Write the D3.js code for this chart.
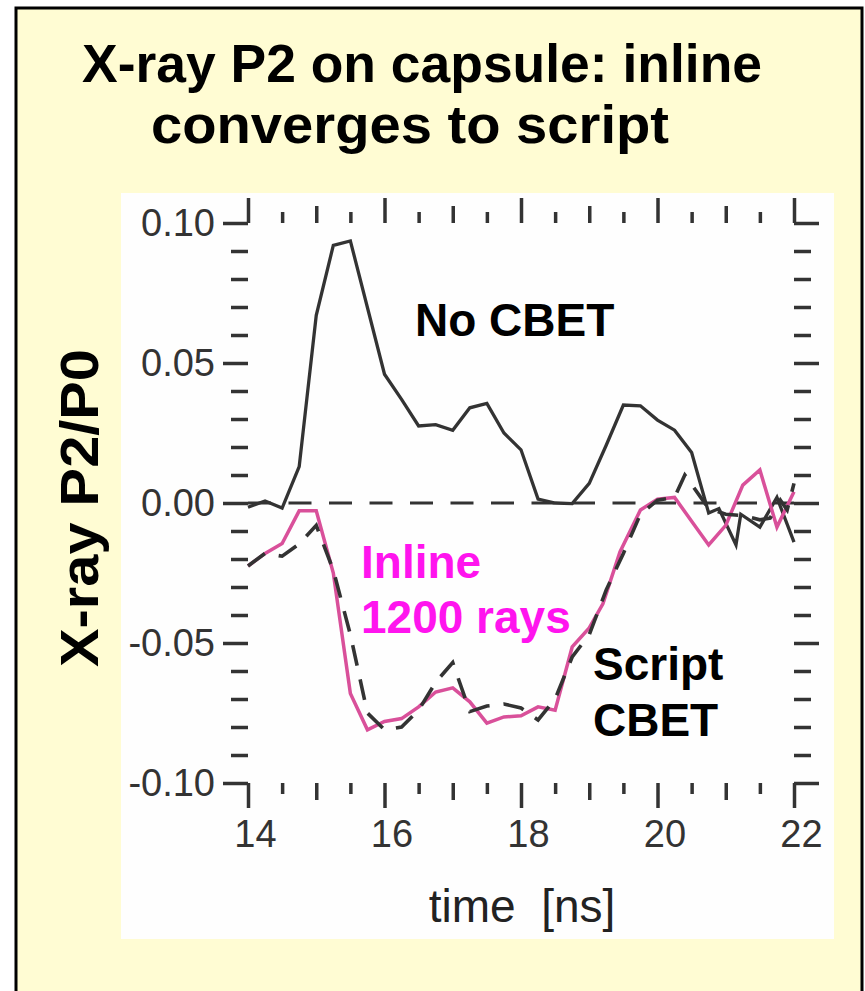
<!DOCTYPE html>
<html>
<head>
<meta charset="utf-8">
<script src="https://cdn.jsdelivr.net/npm/d3@7"></script>
<style>
  body { margin: 0; background: #fff; }
  text { font-family: "Liberation Sans", Arial, Helvetica, sans-serif; }
</style>
</head>
<body>
<div id="chart"></div>
<script>
// No CBET (solid black)
var timeNoCbet = [14.0, 14.25, 14.5, 14.75, 15.0, 15.25, 15.5, 16.0, 16.25, 16.5, 16.75, 17.0, 17.25, 17.5, 17.75, 18.0,
  18.25, 18.5, 18.75, 19.0, 19.25, 19.5, 19.75, 20.0, 20.25, 20.5, 20.75, 20.9, 21.15, 21.22, 21.5, 21.75, 22.0];
var p2NoCbet = [-0.0015, 0.0007, -0.0018, 0.013, 0.067, 0.092, 0.0936, 0.046, 0.037, 0.0275, 0.028, 0.026, 0.034, 0.0356, 0.025, 0.019,
  0.0014, 0.0, -0.0002, 0.007, 0.0207, 0.035, 0.0347, 0.0296, 0.026, 0.018, -0.0036, -0.002, -0.015, -0.004, -0.0086, 0.002, -0.014];

// Inline 1200 rays (pink)
var timeInline = [14.0, 14.25, 14.5, 14.75, 15.0, 15.25, 15.5, 15.75, 16.0, 16.25, 16.5, 16.75, 17.0, 17.25, 17.5, 17.75, 18.0,
  18.25, 18.5, 18.75, 19.0, 19.2, 19.45, 19.75, 20.0, 20.25, 20.5, 20.75, 21.0, 21.25, 21.5, 21.75, 22.0];
var p2Inline = [-0.0225, -0.018, -0.0145, -0.0028, -0.0028, -0.025, -0.068, -0.081, -0.078, -0.077, -0.0728, -0.0675, -0.066, -0.071, -0.0786, -0.0764, -0.076,
  -0.0728, -0.074, -0.0514, -0.0446, -0.036, -0.0175, -0.0025, 0.0014, 0.002, -0.0065, -0.015, -0.008, 0.0064, 0.0118, -0.0086, 0.004];

// Script CBET (dashed black)
var timeScript = [14.0, 14.25, 14.5, 14.75, 15.0, 15.25, 15.5, 15.75, 16.0, 16.25, 16.5, 16.75, 17.0, 17.18, 17.25, 17.5, 17.75, 18.0,
  18.25, 18.5, 18.75, 19.0, 19.25, 19.5, 19.75, 20.0, 20.25, 20.4, 20.75, 21.0, 21.25, 21.5, 21.65, 21.8, 21.9, 22.0];
var p2Script = [-0.0225, -0.018, -0.019, -0.0146, -0.008, -0.024, -0.047, -0.075, -0.081, -0.08, -0.074, -0.064, -0.057, -0.0696, -0.0745, -0.0725, -0.0718, -0.0732,
  -0.0775, -0.07, -0.055, -0.047, -0.031, -0.018, -0.004, 0.001, 0.002, 0.010, -0.002, -0.004, -0.0045, -0.006, -0.0054, 0.001, -0.0025, 0.007];

var xMajorTicks = [14, 16, 18, 20, 22];
var xMidTicks = [15, 17, 19, 21];
var xHalfTicks = [14.5, 15.5, 16.5, 17.5, 18.5, 19.5, 20.5, 21.5];
var yMajorTicks = [-0.1, -0.05, 0, 0.05, 0.1];
var yMinorTicks = [-0.09, -0.08, -0.07, -0.06, -0.04, -0.03, -0.02, -0.01, 0.01, 0.02, 0.03, 0.04, 0.06, 0.07, 0.08, 0.09];

drawChart();

function drawChart() {
var W = 865, H = 991;
var plot = {left: 248, right: 794, top: 223, bottom: 783};
var ink = "#333";

var svg = d3.select("#chart").append("svg").attr("width", W).attr("height", H);

// slide background
svg.append("rect").attr("width", W).attr("height", H).attr("fill", "#fff");
svg.append("rect")
    .attr("x", 16).attr("y", 8).attr("width", 846).attr("height", 1000)
    .attr("fill", "#fffcd3").attr("stroke", "#000").attr("stroke-width", 3);
svg.append("rect")
    .attr("x", 121).attr("y", 193).attr("width", 713).attr("height", 746)
    .attr("fill", "#fefefe");

// title
svg.append("text").attr("x", 82).attr("y", 82)
    .attr("textLength", 680).attr("lengthAdjust", "spacingAndGlyphs")
    .attr("font-size", 53).attr("font-weight", "bold").text("X-ray P2 on capsule: inline");
svg.append("text").attr("x", 151).attr("y", 143)
    .attr("textLength", 518).attr("lengthAdjust", "spacingAndGlyphs")
    .attr("font-size", 53).attr("font-weight", "bold").text("converges to script");

var x = d3.scaleLinear().domain([14, 22]).range([plot.left, plot.right]);
var y = d3.scaleLinear().domain([-0.1, 0.1]).range([plot.bottom, plot.top]);

function styleAxis(g) {
  g.select(".domain").remove();
  g.selectAll(".tick line").attr("stroke", ink).attr("stroke-width", 3.5);
  g.selectAll(".tick text").attr("fill", ink).attr("font-size", 38)
    .attr("font-family", "'Liberation Sans', Arial, sans-serif");
}

// top / bottom ticks
[["top", plot.top, d3.axisTop], ["bottom", plot.bottom, d3.axisBottom]].forEach(function(s) {
  var g = svg.append("g").attr("transform", "translate(0," + s[1] + ")");
  g.append("g").call(s[2](x).tickValues(xHalfTicks).tickSize(11).tickFormat("")).call(styleAxis);
  g.append("g").call(s[2](x).tickValues(xMidTicks).tickSize(17).tickFormat("")).call(styleAxis);
  var major = g.append("g").call(s[2](x).tickValues(xMajorTicks).tickSize(25).tickPadding(12)
      .tickFormat(s[0] == "bottom" ? d3.format("d") : "")).call(styleAxis);
  major.selectAll(".tick text").attr("dx", 7);
});

// left / right ticks
[["left", plot.left, d3.axisLeft], ["right", plot.right, d3.axisRight]].forEach(function(s) {
  var g = svg.append("g").attr("transform", "translate(" + s[1] + ",0)");
  g.append("g").call(s[2](y).tickValues(yMinorTicks).tickSize(17).tickFormat("")).call(styleAxis);
  g.append("g").call(s[2](y).tickValues(yMajorTicks).tickSize(25).tickPadding(8)
      .tickFormat(s[0] == "left" ? function(d) { return d.toFixed(2); } : "")).call(styleAxis);
});

// zero line
svg.append("line")
    .attr("x1", x(14)).attr("x2", x(22)).attr("y1", y(0)).attr("y2", y(0))
    .attr("stroke", ink).attr("stroke-width", 3).attr("stroke-dasharray", "23,17.5");

var line = d3.line().x(function(d) { return x(d[0]); }).y(function(d) { return y(d[1]); });

svg.append("path").datum(d3.zip(timeNoCbet, p2NoCbet)).attr("d", line)
    .attr("fill", "none").attr("stroke", ink).attr("stroke-width", 3.3).attr("stroke-linejoin", "miter");
svg.append("path").datum(d3.zip(timeInline, p2Inline)).attr("d", line)
    .attr("fill", "none").attr("stroke", "#d9509a").attr("stroke-width", 3.5);
svg.append("path").datum(d3.zip(timeScript, p2Script)).attr("d", line)
    .attr("fill", "none").attr("stroke", ink).attr("stroke-width", 3.6).attr("stroke-dasharray", "21,14");

// annotations
var notes = [
  {t: "No CBET", x: 415, y: 336, c: "#000"},
  {t: "Inline", x: 361, y: 578, c: "#ff14ee"},
  {t: "1200 rays", x: 361, y: 633, c: "#ff14ee"},
  {t: "Script", x: 593, y: 680, c: "#000"},
  {t: "CBET", x: 593, y: 736, c: "#000"}
];
svg.selectAll(".note").data(notes).enter().append("text")
    .attr("class", "note")
    .attr("x", function(d) { return d.x; }).attr("y", function(d) { return d.y; })
    .attr("fill", function(d) { return d.c; })
    .attr("font-size", 46).attr("font-weight", "bold")
    .text(function(d) { return d.t; });

// axis titles
svg.append("text").attr("transform", "translate(98,508) rotate(-90)")
    .attr("text-anchor", "middle").attr("font-size", 54).attr("font-weight", "bold")
    .attr("textLength", 318).attr("lengthAdjust", "spacingAndGlyphs")
    .text("X-ray P2/P0");
svg.append("text").attr("x", 522).attr("y", 922).attr("text-anchor", "middle")
    .attr("font-size", 46).attr("fill", "#222").style("white-space", "pre")
    .text("time  [ns]");
}
</script>
</body>
</html>
